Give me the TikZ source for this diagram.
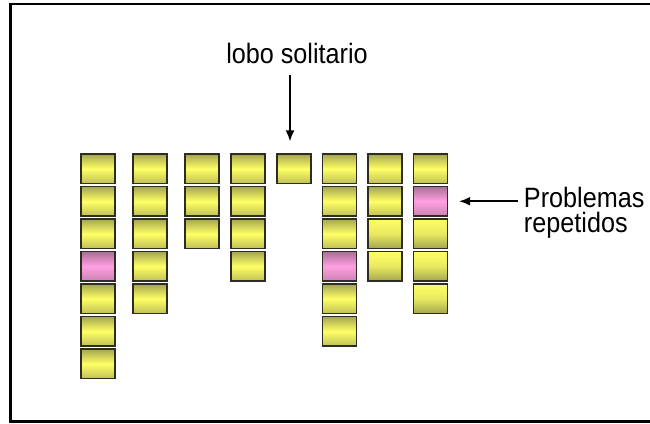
\documentclass[tikz,border=0pt]{standalone}
\usepackage{fontspec}
\setmainfont{Liberation Sans}
\usetikzlibrary{arrows.meta}
\definecolor{olivedge}{RGB}{165,165,80}
\definecolor{brightyel}{RGB}{255,255,102}
\definecolor{pinkedge}{RGB}{170,110,150}
\definecolor{brightpink}{RGB}{255,160,225}
\definecolor{boxline}{RGB}{45,45,35}
\begin{document}
\begin{tikzpicture}[x=1pt, y=-1pt,
  card/.style={draw=boxline, line width=1.3pt, minimum width=34pt, minimum height=29.5pt, inner sep=0pt,
    top color=olivedge, bottom color=olivedge!70!brightyel, middle color=brightyel},
  fadecard/.style={top color=brightyel, bottom color=olivedge, middle color=brightyel!75!olivedge},
  badcard/.style={top color=pinkedge, bottom color=pinkedge!60!brightpink, middle color=brightpink},
  k14/.style=badcard, k64/.style=badcard, k82/.style=badcard,
  k73/.style=fadecard, k74/.style=fadecard, k83/.style=fadecard, k84/.style=fadecard, k85/.style=fadecard,
  lbl/.style={font=\fontsize{28}{25}\selectfont, inner sep=2pt, xscale=0.9, transform shape},
  arr/.style={-{Latex[length=11pt,width=9pt]}, line width=1.7pt}]
\useasboundingbox (0,0) rectangle (650,423);
\draw[line width=2.4pt] (660,4) -- (10.5,4) -- (10.5,421.5) -- (660,421.5);
% columns of problems: column/x/height
\foreach \c/\x/\n in {1/98/7, 2/150/5, 3/202/3, 4/248/4, 5/294/1, 6/339.5/6, 7/385/4, 8/430.5/5}
  \foreach \r in {1,...,\n}
    \node[card, k\c\r/.try] (b\c\r) at (\x, 136.25+32.5*\r) {};
\node[lbl, anchor=base] (lobo) at (297,63.3) {lobo solitario};
\node[lbl, anchor=base west, align=left] (probs) at (522,232.5) {Problemas\\repetidos};
\draw[arr, shorten <=9pt, shorten >=12pt] ([xshift=-4pt]b51.north |- lobo.south) -- ([xshift=-4pt]b51.north);
\draw[arr, shorten <=4pt, shorten >=11pt] (b82.east -| probs.west) -- (b82.east);
\end{tikzpicture}
\end{document}
